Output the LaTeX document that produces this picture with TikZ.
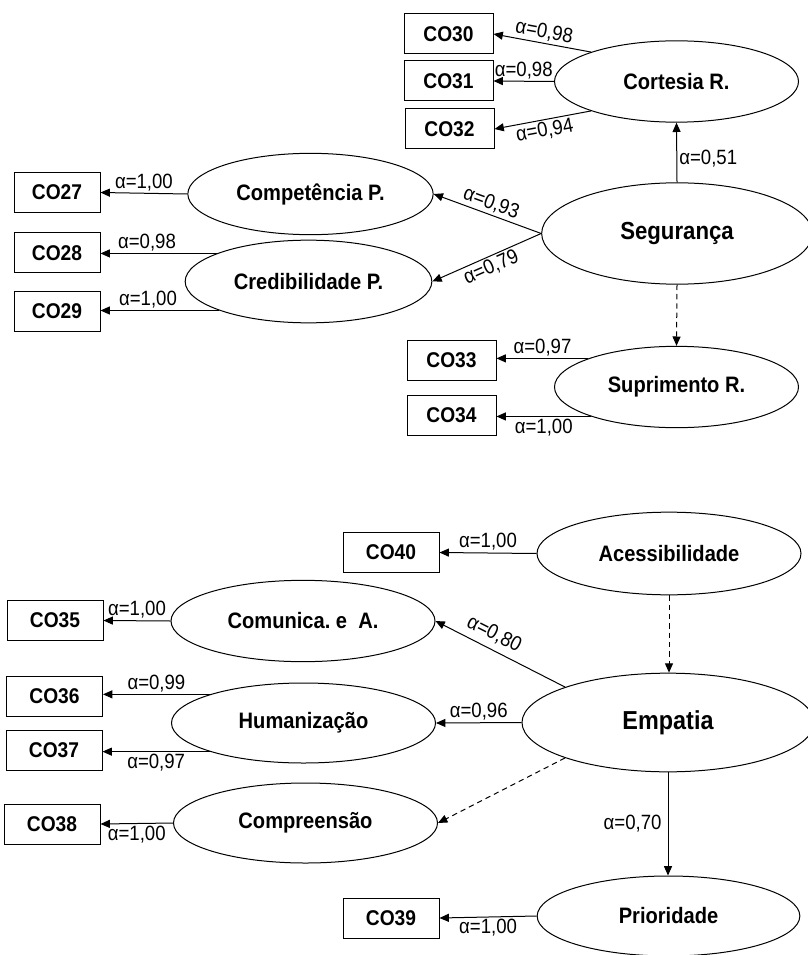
\documentclass[tikz,border=0pt]{standalone}
\usepackage{fontspec}
\setmainfont{Liberation Sans}[FakeStretch=0.9]
\usetikzlibrary{shapes.geometric,arrows.meta}

\begin{document}
\begin{tikzpicture}[x=0.75pt,y=-0.75pt,line width=0.75pt,
	ind/.style={draw, rectangle, minimum width=66.75pt, minimum height=30pt, inner sep=0pt, font=\fontsize{16}{19}\selectfont\bfseries},
	indw/.style={ind, minimum width=72pt},
	lat/.style={draw, ellipse, minimum width=183pt, minimum height=61pt, inner sep=0pt, font=\fontsize{16.75}{20}\selectfont\bfseries},
	latw/.style={lat, minimum width=198pt},
	big/.style={lat, font=\fontsize{18.5}{22}\selectfont\bfseries},
	ld/.style={-{Triangle[length=7pt,width=6pt]}},
	dsh/.style={ld, dash pattern=on 4pt off 3pt},
	lbl/.style={font=\fontsize{15.5}{18}\selectfont, inner sep=1.5pt}]
	\useasboundingbox[fill=white] (0,0) rectangle (807,955);
%	% Seguranca
	\node[big, minimum width=203pt, minimum height=76pt] (seg) at (677,233.5) {Segurança};
	\node[lat] (cort) at (676.5,81.5) {Cortesia R.};
	\node[lat, minimum width=184pt] (comp) at (310.5,194) {Competência P.};
	\node[lat, minimum width=185pt, minimum height=62pt] (cred) at (308.5,281.5) {Credibilidade P.};
	\node[lat] (supr) at (676.5,387) {Suprimento R.};
	\node[ind] (co30) at (448.5,34) {CO30};
	\node[ind] (co31) at (448.5,81) {CO31};
	\node[ind] (co32) at (449.5,129) {CO32};
	\node[ind, minimum width=64.5pt] (co27) at (57,192.5) {CO27};
	\node[ind, minimum width=64.5pt] (co28) at (57,253) {CO28};
	\node[ind, minimum width=64.5pt] (co29) at (57,311) {CO29};
	\node[ind] (co33) at (451.5,360.5) {CO33};
	\node[ind] (co34) at (451.5,415) {CO34};
	\draw[ld] (seg.north) -- (cort.south) node[lbl, pos=0.4, right] {α=0,51};
	\draw[ld] (seg.west) -- (comp.east) node[lbl, midway, above, sloped] {α=0,93};
	\draw[ld] (seg.west) -- (cred.east) node[lbl, midway, below, sloped] {α=0,79};
	\draw[dsh] (seg.south) -- (supr.north);
	\draw[ld] (cort.161) -- (co30.east) node[lbl, midway, above, sloped] {α=0,98};
	\draw[ld] (cort.west) -- (co31.east) node[lbl, midway, above] {α=0,98};
	\draw[ld] (cort.199) -- (co32.east) node[lbl, midway, below, sloped] {α=0,94};
	\draw[ld] (comp.west) -- (co27.east) node[lbl, midway, above] {α=1,00};
	\draw[ld] (cred.163) -- (cred.163 -| co28.east) node[lbl, pos=0.6, above] {α=0,98};
	\draw[ld] (cred.198) -- (cred.198 -| co29.east) node[lbl, pos=0.6, above] {α=1,00};
	\draw[ld] (supr.162) -- (supr.162 -| co33.east) node[lbl, midway, above] {α=0,97};
	\draw[ld] (supr.199) -- (supr.199 -| co34.east) node[lbl, midway, below] {α=1,00};
%	% Empatia
	\node[big, minimum width=219pt, minimum height=74pt, font=\fontsize{19.5}{23}\selectfont\bfseries] (emp) at (668,722.5) {Empatia};
	\node[latw, minimum height=62pt] (acc) at (669,553.5) {Acessibilidade};
	\node[latw] (comun) at (303,621) {Comunica.\ e\ \ A.};
	\node[latw, minimum height=60pt] (hum) at (303.5,723) {Humanização};
	\node[latw, minimum height=60pt] (compr) at (305.5,823) {Compreensão};
	\node[latw, minimum width=197pt, minimum height=60pt] (prio) at (668.5,916) {Prioridade};
	\node[indw] (co40) at (391,552.5) {CO40};
	\node[indw] (co35) at (55,620.5) {CO35};
	\node[indw] (co36) at (54.5,696.5) {CO36};
	\node[indw] (co37) at (54,750) {CO37};
	\node[indw] (co38) at (52,824) {CO38};
	\node[indw] (co39) at (391,918) {CO39};
	\draw[ld] (acc.west) -- (co40.east) node[lbl, midway, above] {α=1,00};
	\draw[dsh] (acc.south) -- (acc.south |- emp.north);
	\draw[ld] (emp.161) -- (comun.east) node[lbl, pos=0.6, above=3pt, sloped] {α=0,80};
	\draw[ld] (emp.west) -- (hum.east) node[lbl, midway, above] {α=0,96};
	\draw[dsh] (emp.199) -- (compr.east);
	\draw[ld] (emp.south) -- (emp.south |- prio.north) node[lbl, midway, left=3pt] {α=0,70};
	\draw[ld] (comun.west) -- (co35.east) node[lbl, midway, above] {α=1,00};
	\draw[ld] (hum.163) -- (hum.163 -| co36.east) node[lbl, midway, above] {α=0,99};
	\draw[ld] (hum.197) -- (hum.197 -| co37.east) node[lbl, midway, below] {α=0,97};
	\draw[ld] (compr.west) -- (co38.east) node[lbl, midway, below] {α=1,00};
	\draw[ld] (prio.west) -- (co39.east) node[lbl, midway, below] {α=1,00};
\end{tikzpicture}
\end{document}
